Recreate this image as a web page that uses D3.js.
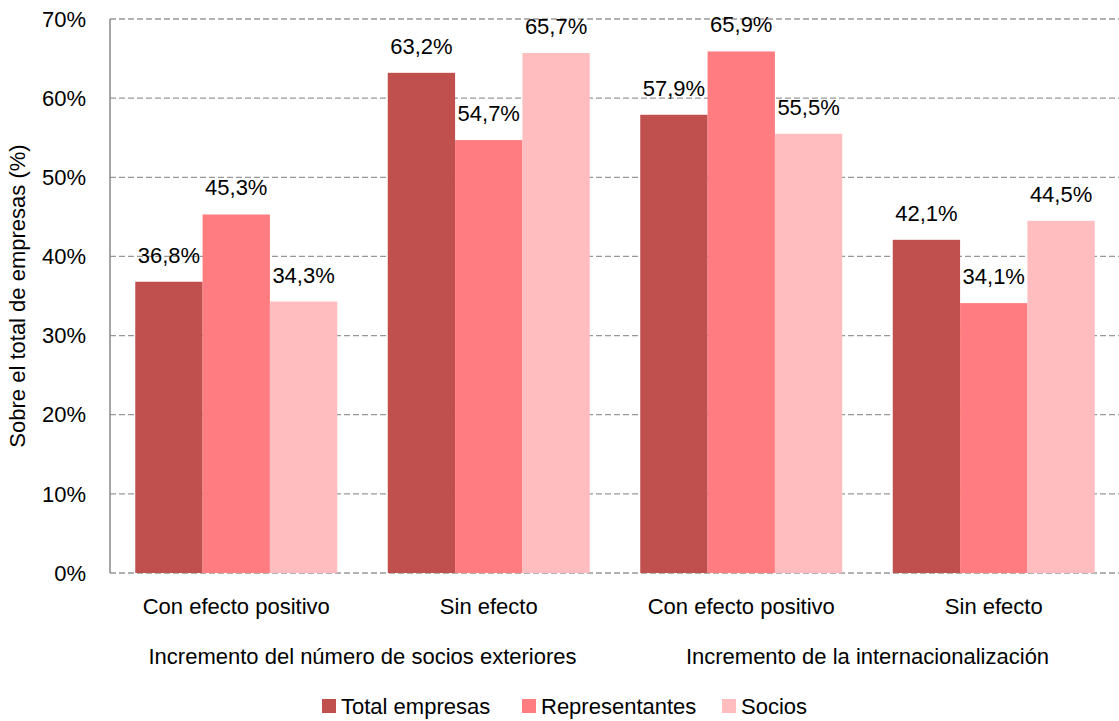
<!DOCTYPE html>
<html>
<head>
<meta charset="utf-8">
<script src="https://d3js.org/d3.v7.min.js"></script>
<style>
  body { margin: 0; background: #fff; }
  text { font-family: "Liberation Sans Narrow", "Arial Narrow", "Liberation Sans", sans-serif; fill: #000; }
  .grid line { stroke: #999; stroke-dasharray: 6,3; stroke-width: 1.3; }
</style>
</head>
<body>
<svg width="1119" height="721"></svg>
<script>
// data
var groups = ["Incremento del número de socios exteriores", "Incremento de la internacionalización"];
var categories = ["Con efecto positivo", "Sin efecto", "Con efecto positivo", "Sin efecto"];
var series = ["Total empresas", "Representantes", "Socios"];
var colors = ["#C0504D", "#FF7C80", "#FFBDC0"];
var totalEmpresas = [36.8, 63.2, 57.9, 42.1];
var representantes = [45.3, 54.7, 65.9, 34.1];
var socios = [34.3, 65.7, 55.5, 44.5];
var yTicks = [0, 10, 20, 30, 40, 50, 60, 70];

var values = [totalEmpresas, representantes, socios];

var svg = d3.select("svg");
var plotLeft = 110, plotRight = 1120, plotTop = 19, plotBottom = 573;

var x0 = d3.scaleBand().domain(d3.range(categories.length)).range([plotLeft, plotRight]).paddingInner(0.2).paddingOuter(0.1);
var x1 = d3.scaleBand().domain(d3.range(series.length)).range([0, x0.bandwidth()]);
var y = d3.scaleLinear().domain([0, 70]).range([plotBottom, plotTop]);
var fmt = function(v) { return v.toFixed(1).replace(".", ",") + "%"; };

// grid
svg.append("g").attr("class", "grid").selectAll("line").data(yTicks).enter().append("line")
    .attr("x1", plotLeft).attr("x2", plotRight)
    .attr("y1", function(d) { return y(d); }).attr("y2", function(d) { return y(d); });

// y axis
svg.append("line").attr("x1", plotLeft).attr("x2", plotLeft).attr("y1", plotTop).attr("y2", plotBottom)
    .attr("stroke", "#888").attr("stroke-width", 1.5);
svg.append("g").selectAll("text").data(yTicks).enter().append("text")
    .attr("x", plotLeft - 24).attr("y", function(d) { return y(d); }).attr("dy", "0.35em")
    .attr("text-anchor", "end").attr("font-size", 22)
    .text(function(d) { return d + "%"; });

svg.append("text").attr("transform", "translate(25," + ((plotTop + plotBottom) / 2) + ") rotate(-90)")
    .attr("text-anchor", "middle").attr("font-size", 22)
    .text("Sobre el total de empresas (%)");

// bars
series.forEach(function(s, si) {
    var g = svg.append("g");
    g.selectAll("rect").data(values[si]).enter().append("rect")
        .attr("x", function(d, i) { return x0(i) + x1(si); })
        .attr("width", x1.bandwidth())
        .attr("y", function(d) { return y(d); })
        .attr("height", function(d) { return plotBottom - y(d); })
        .attr("fill", colors[si]);
    g.selectAll("text").data(values[si]).enter().append("text")
        .attr("x", function(d, i) { return x0(i) + x1(si) + x1.bandwidth() / 2; })
        .attr("y", function(d) { return y(d) - 19; })
        .attr("text-anchor", "middle").attr("font-size", 22)
        .text(fmt);
});

// category labels
svg.append("g").selectAll("text").data(categories).enter().append("text")
    .attr("x", function(d, i) { return x0(i) + x0.bandwidth() / 2; })
    .attr("y", 614).attr("text-anchor", "middle").attr("font-size", 22)
    .text(function(d) { return d; });

svg.append("g").selectAll("text").data(groups).enter().append("text")
    .attr("x", function(d, i) { return plotLeft + (plotRight - plotLeft) / 4 * (2 * i + 1); })
    .attr("y", 664).attr("text-anchor", "middle").attr("font-size", 22)
    .text(function(d) { return d; });

// legend
var legX = [322, 522, 722];
var leg = svg.append("g").selectAll("g").data(series).enter().append("g")
    .attr("transform", function(d, i) { return "translate(" + legX[i] + ",699)"; });
leg.append("rect").attr("width", 14).attr("height", 14).attr("fill", function(d, i) { return colors[i]; });
leg.append("text").attr("x", 19).attr("y", 7).attr("dy", "0.35em").attr("font-size", 22)
    .text(function(d) { return d; });
</script>
</body>
</html>
